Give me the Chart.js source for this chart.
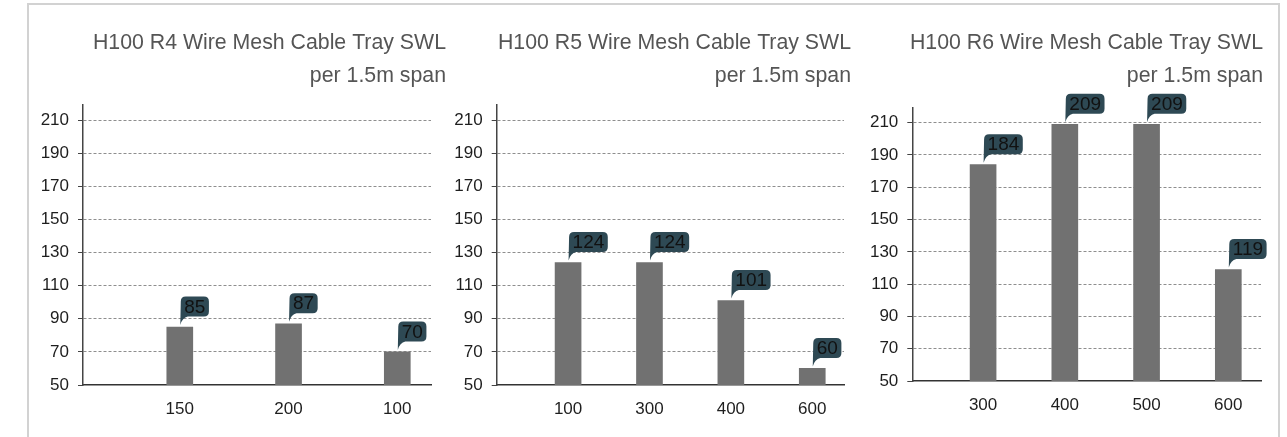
<!DOCTYPE html>
<html>
<head>
<meta charset="utf-8">
<script src="https://cdn.jsdelivr.net/npm/chart.js@4.4.1/dist/chart.umd.min.js"></script>
<style>
  body { margin: 0; background: #fff; width: 1287px; height: 437px; overflow: hidden; position: relative; }
  #frame { position: absolute; left: 27px; top: 3px; width: 1249px; height: 460px; border: 2px solid #d2d2d2; }
  canvas { position: absolute; }
</style>
</head>
<body>
<div id="frame"></div>
<canvas id="c1" width="425" height="427" style="left:30px;top:10px"></canvas>
<canvas id="c2" width="410" height="427" style="left:450px;top:10px"></canvas>
<canvas id="c3" width="407" height="427" style="left:865px;top:10px"></canvas>
<script>
// ---------------- data ----------------
const subTitle = 'per 1.5m span';

const r4Title = 'H100 R4 Wire Mesh Cable Tray SWL';
const r4Labels = ['150', '200', '100'];
const r4Values = [85, 87, 70];

const r5Title = 'H100 R5 Wire Mesh Cable Tray SWL';
const r5Labels = ['100', '300', '400', '600'];
const r5Values = [124, 124, 101, 60];

const r6Title = 'H100 R6 Wire Mesh Cable Tray SWL';
const r6Labels = ['300', '400', '500', '600'];
const r6Values = [184, 209, 209, 119];

const yTicks = [50, 70, 90, 110, 130, 150, 170, 190, 210];

// ---------------- drawing ----------------
const normal = "'Liberation Sans', Arial, sans-serif";

// speech-bubble value labels above the bars
const calloutPlugin = {
  id: 'callout',
  afterDatasetsDraw(chart) {
    const ctx = chart.ctx;
    const meta = chart.getDatasetMeta(0);
    const ds = chart.data.datasets[0];
    ctx.save();
    ctx.font = '19px ' + normal;
    meta.data.forEach((bar, i) => {
      const text = String(ds.data[i].y);
      const w = ctx.measureText(text).width + 7;
      const h = 20;
      const left = bar.x + 1;
      const bottom = bar.y - 10.5;
      const top = bottom - h;
      const r = 5;
      ctx.beginPath();
      ctx.moveTo(left + r, top);
      ctx.lineTo(left + w - r, top);
      ctx.quadraticCurveTo(left + w, top, left + w, top + r);
      ctx.lineTo(left + w, bottom - r);
      ctx.quadraticCurveTo(left + w, bottom, left + w - r, bottom);
      ctx.lineTo(left + 7, bottom);
      ctx.quadraticCurveTo(left + 1.5, bottom + 1, left - 0.5, bar.y - 2);
      ctx.lineTo(left, top + r);
      ctx.quadraticCurveTo(left, top, left + r, top);
      ctx.closePath();
      ctx.fillStyle = '#2e4954';
      ctx.fill();
      ctx.fillStyle = '#111';
      ctx.textAlign = 'center';
      ctx.textBaseline = 'middle';
      ctx.fillText(text, left + w / 2, top + h / 2 + 1);
    });
    ctx.restore();
  }
};

function makeChart(id, title, labels, values, box) {
  new Chart(document.getElementById(id), {
    type: 'bar',
    data: {
      datasets: [{
        data: values.map((v, i) => ({x: i, y: v})),
        backgroundColor: '#717171',
        barThickness: 26
      }]
    },
    plugins: [calloutPlugin],
    options: {
      responsive: false,
      animation: false,
      layout: {padding: {left: 0, right: 9, top: 0, bottom: 0}},
      plugins: {
        legend: {display: false},
        tooltip: {enabled: false},
        title: {
          display: true,
          text: [title, subTitle],
          align: 'end',
          color: '#555555',
          font: {family: normal, size: 21.3, weight: 'normal', lineHeight: 1.53},
          padding: {top: 17, bottom: box.titleBottom}
        }
      },
      scales: {
        x: {
          type: 'linear',
          offset: false,
          min: box.xMin,
          max: box.xMax,
          grid: {display: false},
          border: {display: true, color: '#333', width: 1.5},
          afterBuildTicks: (s) => { s.ticks = labels.map((_, i) => ({value: i})); },
          afterFit: (s) => { s.height = box.xHeight; s.paddingLeft = 0; s.paddingRight = box.rightGap; },
          ticks: {
            color: '#1e1e1e',
            padding: 6,
            maxRotation: 0,
            font: {family: normal, size: 17},
            callback: (v) => labels[v]
          }
        },
        y: {
          min: 50,
          max: 219,
          afterBuildTicks: (s) => { s.ticks = yTicks.map(v => ({value: v})); },
          afterFit: (s) => { s.width = box.yWidth; },
          grid: {
            color: (c) => c.tick && c.tick.value === 50 ? 'rgba(0,0,0,0)' : '#8e8e8e',
            tickColor: '#444',
            tickLength: 5,
            lineWidth: 1
          },
          border: {display: true, color: '#444', width: 1.5, dash: [3, 2]},
          ticks: {
            color: '#1e1e1e',
            padding: 9,
            font: {family: normal, size: 17}
          }
        }
      }
    }
  });
}

makeChart('c1', r4Title, r4Labels, r4Values,
  {xMin: -0.89, xMax: 2.31, yWidth: 53, xHeight: 52, rightGap: 24, titleBottom: 13});
makeChart('c2', r5Title, r5Labels, r5Values,
  {xMin: -0.877, xMax: 3.39, yWidth: 46.7, xHeight: 52, rightGap: 16, titleBottom: 13});
makeChart('c3', r6Title, r6Labels, r6Values,
  {xMin: -0.866, xMax: 3.40, yWidth: 47.3, xHeight: 56, rightGap: 11, titleBottom: 16});
</script>
</body>
</html>
